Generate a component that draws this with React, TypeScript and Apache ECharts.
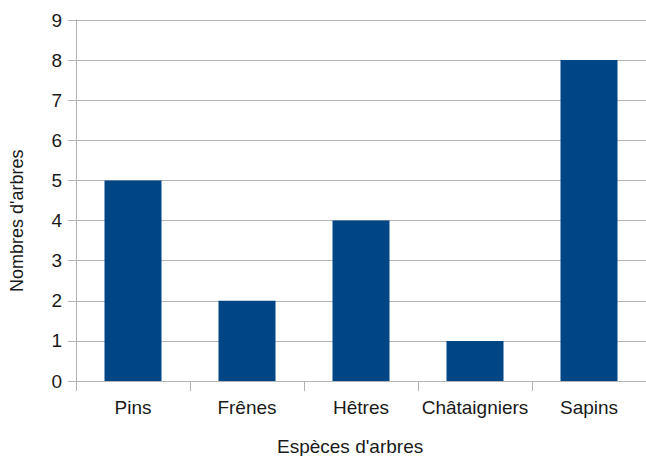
import React, { useEffect, useRef } from "react";
import * as echarts from "echarts";

const categories = ["Pins", "Frênes", "Hêtres", "Châtaigniers", "Sapins"];
const values = [5, 2, 4, 1, 8];
const xAxisTitle = "Espèces d'arbres";
const yAxisTitle = "Nombres d'arbres";

export default function App() {
  const ref = useRef<HTMLDivElement>(null);
  useEffect(() => {
    if (!ref.current) return;
    const chart = echarts.init(ref.current, null, { renderer: "svg" });
    const font = "'Liberation Sans', Arial, sans-serif";
    const grey = "#b3b3b3";
    chart.setOption({
      animation: false,
      backgroundColor: "#ffffff",
      grid: { left: 76, top: 20, right: -3, bottom: 75, containLabel: false },
      xAxis: {
        type: "category",
        data: categories,
        axisLine: { show: true, lineStyle: { color: grey, width: 1 } },
        axisTick: { show: true, length: 10, alignWithLabel: false, lineStyle: { color: grey } },
        axisLabel: { interval: 0, margin: 17, color: "#1a1a1a", fontSize: 19, fontFamily: font },
        splitLine: { show: false },
      },
      yAxis: {
        type: "value",
        min: 0,
        max: 9,
        interval: 1,
        axisLine: { show: true, lineStyle: { color: grey, width: 1 } },
        axisTick: { show: true, length: 8, lineStyle: { color: grey } },
        axisLabel: { margin: 14, color: "#1a1a1a", fontSize: 19, fontFamily: font },
        splitLine: { show: true, lineStyle: { color: grey, width: 1 } },
      },
      series: [
        {
          type: "bar",
          data: values,
          barWidth: "50%",
          itemStyle: { color: "#004586" },
        },
      ],
      graphic: [
        {
          type: "text",
          left: 277,
          top: 437,
          style: { text: xAxisTitle, fontSize: 19, fontFamily: font, fill: "#1a1a1a" },
        },
        {
          type: "text",
          x: 8,
          y: 292,
          rotation: Math.PI / 2,
          style: {
            text: yAxisTitle,
            fontSize: 18,
            fontFamily: font,
            fill: "#1a1a1a",
            textAlign: "left",
            textVerticalAlign: "top",
          },
        },
      ],
    });
    return () => chart.dispose();
  }, []);
  return <div ref={ref} style={{ width: 646, height: 456, position: "absolute", left: 0, top: 0 }} />;
}
